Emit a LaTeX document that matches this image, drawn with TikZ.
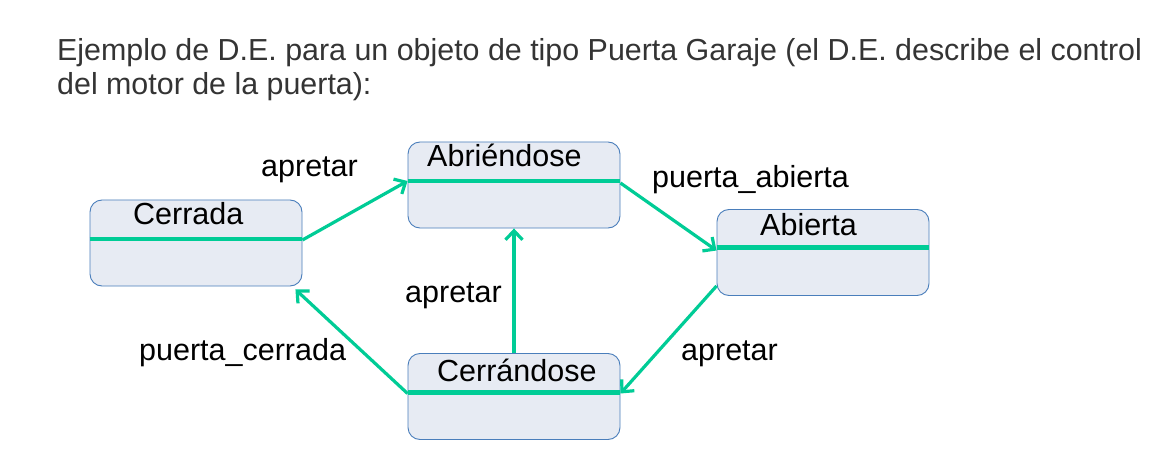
\documentclass[tikz,border=0pt]{standalone}
\usepackage{fontspec}
\setmainfont{Liberation Sans}
\usetikzlibrary{arrows.meta,calc}
\definecolor{grn}{RGB}{0,204,150}
\definecolor{boxfill}{RGB}{231,235,243}
\definecolor{boxdraw}{RGB}{74,126,187}
\definecolor{ttl}{RGB}{52,52,52}
\begin{document}
\begin{tikzpicture}[x=1pt,y=-1pt,
  state/.style={draw=boxdraw, fill=boxfill, rounded corners=12pt, minimum width=212pt, minimum height=86pt, line width=0.9pt, inner sep=0pt},
  sepline/.style={draw=grn, line width=4.5pt},
  trans/.style={draw=grn, line width=3.2pt, -{Straight Barb[length=9pt,width=17pt,line width=3.2pt]}},
  lbl/.style={anchor=base west, inner sep=0pt, font=\fontsize{30.5}{36}\selectfont, text=black},
  ttlstyle/.style={anchor=base west, inner sep=0pt, font=\fontsize{30.4}{36}\selectfont, text=ttl}]
\useasboundingbox (0,0) rectangle (1160,476);
\fill[white] (0,0) rectangle (1160,476);
% title
\node[ttlstyle] (t1) at (57,61) {Ejemplo de D.E. para un objeto de tipo Puerta Garaje (el D.E. describe el control};
\node[ttlstyle] (t2) at (57,95) {del motor de la puerta):};
% states
\node[state] (cer) at (196,243) {};
\node[state] (abr) at (514,185) {};
\node[state] (abi) at (823,252.5) {};
\node[state] (cdo) at (514,396.5) {};
\draw[sepline] ([yshift=4pt]cer.west) -- ([yshift=4pt]cer.east);
\draw[sepline] ([yshift=4pt]abr.west) -- ([yshift=4pt]abr.east);
\draw[sepline] ([yshift=5pt]abi.west) -- ([yshift=5pt]abi.east);
\draw[sepline] ([yshift=4pt]cdo.west) -- ([yshift=4pt]cdo.east);
\node[lbl] (cerT) at (133,225) {Cerrada};
\node[lbl] (abrT) at (427,167) {Abriéndose};
\node[lbl] (abiT) at (760,235) {Abierta};
\node[lbl] (cdoT) at (437,381) {Cerrándose};
% transitions
\draw[trans] ([yshift=3pt]cer.east) -- ([yshift=4pt]abr.west);
\draw[trans] ([yshift=2pt]abr.east) -- ([yshift=2pt]abi.west);
\draw[trans] ([yshift=10pt]abi.south west) -- ([yshift=3pt]cdo.east);
\draw[trans] (cdo.north) -- (abr.south);
\draw[trans] ([yshift=3pt]cdo.west) -- ([shift={(-7pt,-3pt)}]cer.south east);
% labels
\node[lbl] (l1) at (261,177) {apretar};
\node[lbl] (l2) at (652,187) {puerta\_abierta};
\node[lbl] (l3) at (405,302) {apretar};
\node[lbl] (l4) at (681,360) {apretar};
\node[lbl] (l5) at (139,360) {puerta\_cerrada};
\end{tikzpicture}
\end{document}
